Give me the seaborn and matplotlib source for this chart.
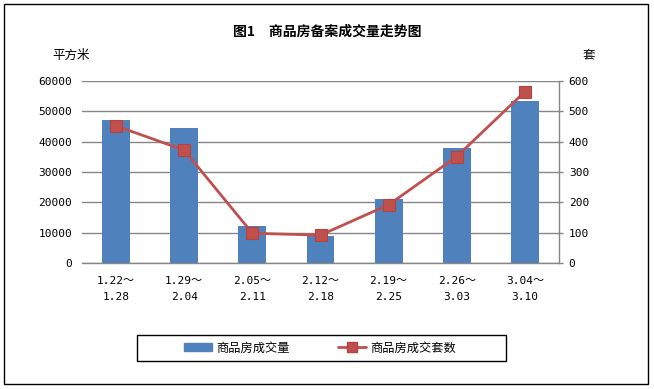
import numpy as np
import pandas as pd
import matplotlib
matplotlib.use("Agg")
import matplotlib.pyplot as plt
from matplotlib.patches import Rectangle, Patch
from matplotlib.lines import Line2D
import seaborn as sns

categories = ["1.22～\n1.28", "1.29～\n2.04", "2.05～\n2.11", "2.12～\n2.18",
              "2.19～\n2.25", "2.26～\n3.03", "3.04～\n3.10"]
area = [47300, 44400, 12350, 8750, 21100, 37800, 53550]
units = [452, 372, 98, 92, 192, 351, 565]
left_ticks = [0, 10000, 20000, 30000, 40000, 50000, 60000]
right_ticks = [0, 100, 200, 300, 400, 500, 600]

title = "图1　商品房备案成交量走势图"
left_unit = "平方米"
right_unit = "套"
bar_name = "商品房成交量"
line_name = "商品房成交套数"

sns.set_theme(style="white")
plt.rcParams['font.family'] = ['Noto Sans CJK SC', 'DejaVu Sans']
plt.rcParams['text.color'] = 'black'
MONO = ['DejaVu Sans Mono', 'Noto Sans CJK SC']

BLUE = "#4F81BD"
RED = "#C0504D"
GRID = "#868686"

W, H = 654, 389
fig = plt.figure(figsize=(W / 100, H / 100), dpi=100)
fig.patch.set_facecolor("white")

def fx(px):
    return px / W

def fy(py):
    return 1 - py / H

ax = fig.add_axes([fx(82), fy(263), fx(559) - fx(82), fy(81) - fy(263)])
df = pd.DataFrame({"cat": categories, "area": area})
sns.barplot(data=df, x="cat", y="area", ax=ax, color=BLUE, width=0.41,
            saturation=1, linewidth=0, zorder=2)
ax.set_xlim(-0.5, len(categories) - 0.5)
ax.set_ylim(0, 60000)
ax.set_yticks(left_ticks)
ax.set_yticklabels([str(v) for v in left_ticks], fontsize=8, family=MONO)
ax.yaxis.grid(True, color=GRID, linewidth=1.0, zorder=0)
ax.set_axisbelow(True)
ax.tick_params(axis="y", length=0, pad=7, labelcolor="black")
ax.tick_params(axis="x", length=0, pad=9, labelcolor="black")
ax.set_xticks(range(len(categories)))
ax.set_xticklabels(categories, fontsize=8, family=MONO, linespacing=1.75)
ax.set_xlabel("")
ax.set_ylabel("")
for s in ["top", "left", "right"]:
    ax.spines[s].set_visible(False)
ax.spines["bottom"].set_color(GRID)
ax.spines["bottom"].set_linewidth(1.0)

ax2 = ax.twinx()
x_pos = np.arange(len(categories))
sns.lineplot(x=x_pos, y=units, ax=ax2, color=RED, linewidth=2.0,
             marker="s", markersize=8, markerfacecolor=RED,
             markeredgecolor="#B5423F", markeredgewidth=0.8, zorder=5)
ax2.set_ylim(0, 600)
ax2.set_yticks(right_ticks)
ax2.set_yticklabels([str(v) for v in right_ticks], fontsize=8, family=MONO)
ax2.tick_params(axis="y", length=3, width=1.0, color=GRID, pad=4, right=True,
                labelcolor="black")
ax2.set_ylabel("")
for s in ["top", "left", "bottom"]:
    ax2.spines[s].set_visible(False)
ax2.spines["right"].set_color(GRID)
ax2.spines["right"].set_linewidth(1.0)
ax2.set_xlim(-0.5, len(categories) - 0.5)

fig.text(fx(327), fy(32), title, ha="center", va="center",
         fontsize=10, fontweight="bold", color="black")
fig.text(fx(71), fy(55), left_unit, ha="center", va="center", fontsize=9,
         color="black")
fig.text(fx(589), fy(55), right_unit, ha="center", va="center", fontsize=9,
         color="black")

# outer border
fig.patches.append(Rectangle((fx(4), fy(384)), fx(648) - fx(4), fy(4) - fy(384),
                             transform=fig.transFigure, fill=False,
                             edgecolor="black", linewidth=1.0))
# legend box
fig.patches.append(Rectangle((fx(137), fy(361)), fx(506) - fx(137), fy(335) - fy(361),
                             transform=fig.transFigure, fill=False,
                             edgecolor="black", linewidth=1.0))
handles = [Patch(facecolor=BLUE, edgecolor=BLUE),
           Line2D([0], [0], color=RED, linewidth=2.0, marker="s", markersize=7,
                  markerfacecolor=RED, markeredgecolor="#B5423F")]
leg = fig.legend(handles, [bar_name, line_name], loc="center",
                 bbox_to_anchor=(fx(320), fy(348)), ncol=2, frameon=False,
                 fontsize=8.8, handlelength=2.3, handleheight=0.6,
                 columnspacing=4.0, handletextpad=0.3, labelcolor="black")

fig.savefig("out.png", dpi=100)
